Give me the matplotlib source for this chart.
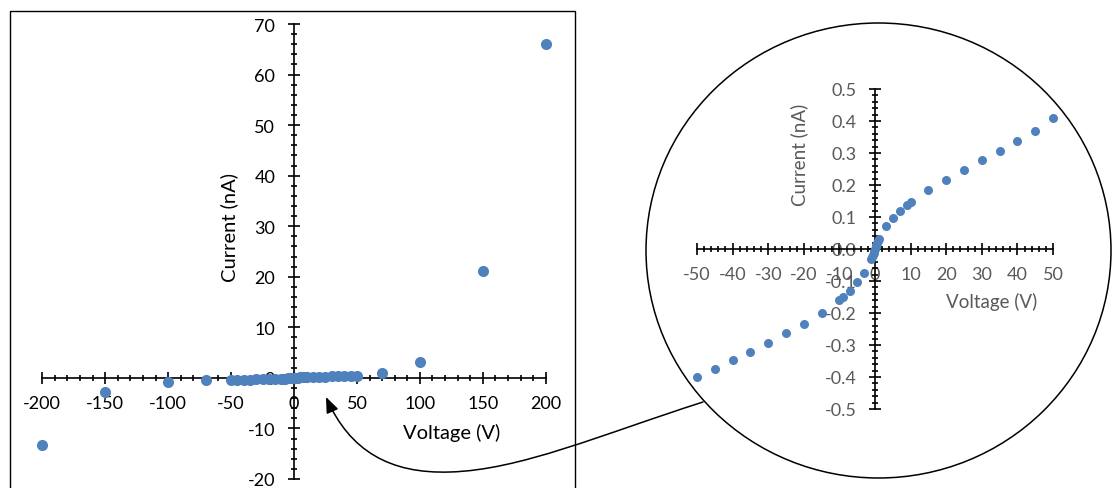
import numpy as np
import matplotlib
matplotlib.use("Agg")
import matplotlib.pyplot as plt
from matplotlib.ticker import MultipleLocator, FormatStrFormatter
from matplotlib.patches import Rectangle, Ellipse, FancyArrowPatch
from matplotlib.path import Path

#--------------------------------
# Configurations of the graphs
#--------------------------------
plt.rcParams['font.family'] = ['Lato', 'DejaVu Sans']
plt.rcParams['axes.unicode_minus'] = False

W, H = 1112, 489
BLUE = '#4f81bd'
GREY = '#595959'

#--------------------------------
# Data
#--------------------------------
# sweep between -50 V and 50 V (shown in the zoom circle)
volt_inner = [-50, -45, -40, -35, -30, -25, -20, -15, -10, -9, -7, -5, -3,
              -1, -0.8, -0.6, -0.4, -0.2, 0, 0.2, 0.4, 0.6, 0.8, 1,
              3, 5, 7, 9, 10, 15, 20, 25, 30, 35, 40, 45, 50]
curr_inner = [-0.401, -0.375, -0.346, -0.322, -0.294, -0.264, -0.235, -0.200,
              -0.158, -0.149, -0.130, -0.104, -0.075,
              -0.030, -0.025, -0.019, -0.013, -0.006, 0.0, 0.006, 0.013,
              0.019, 0.025, 0.031,
              0.071, 0.098, 0.118, 0.136, 0.146, 0.184, 0.217, 0.248, 0.277,
              0.306, 0.338, 0.370, 0.409]
# high voltage points (only in the full chart)
volt_outer = [-200, -150, -100, -70, 70, 100, 150, 200]
curr_outer = [-13.2, -2.8, -0.8, -0.5, 0.9, 3.2, 21.2, 66.1]


def fx(px):
    return px / W


def fy(py):
    return 1 - py / H


def cross_axes(ax, color):
    ax.set_facecolor('none')
    ax.spines[['top', 'right']].set_visible(False)
    ax.spines['left'].set_position('zero')
    ax.spines['bottom'].set_position('zero')
    for s in ('left', 'bottom'):
        ax.spines[s].set_linewidth(1.2)
        ax.spines[s].set_color('black')
    ax.tick_params(which='both', direction='inout', width=1.2, colors='black',
                   labelcolor=color)
    ax.tick_params(which='major', length=9)
    ax.tick_params(which='minor', length=5)


fig = plt.figure(figsize=(W / 100, H / 100), dpi=100)

# frame of the full chart
fig.patches.append(Rectangle((fx(10), fy(500)), fx(575) - fx(10), fy(12) - fy(500),
                             transform=fig.transFigure, fill=False,
                             ec='black', lw=1.0, zorder=0.5))
# zoom circle
fig.patches.append(Ellipse((fx(878.5), fy(251.5)), 465 / W, 455 / H,
                           transform=fig.transFigure, fc='white',
                           ec='black', lw=1.1, zorder=0.5))

#--------------------------------
# Full chart
#--------------------------------
ax = fig.add_axes([fx(42.3), fy(480), fx(545.7) - fx(42.3), fy(25) - fy(480)])
ax.set_zorder(2)
ax.set_xlim(-200, 200)
ax.set_ylim(-20, 70)
cross_axes(ax, 'black')
ax.xaxis.set_major_locator(MultipleLocator(50))
ax.xaxis.set_minor_locator(MultipleLocator(10))
ax.yaxis.set_major_locator(MultipleLocator(10))
ax.yaxis.set_minor_locator(MultipleLocator(2))
ax.tick_params(axis='x', which='major', labelsize=13, pad=7.5)
ax.tick_params(axis='y', which='major', labelsize=13, pad=9)
ax.plot(volt_outer + volt_inner, curr_outer + curr_inner, 'o', color=BLUE,
        ms=8, mew=0, clip_on=False, zorder=5)
fig.text(fx(452), fy(433), 'Voltage (V)', ha='center', va='center', fontsize=14.5)
fig.text(fx(229), fy(228), 'Current (nA)', ha='center', va='center',
         rotation=90, fontsize=14.5)

#--------------------------------
# Zoomed chart
#--------------------------------
ax2 = fig.add_axes([fx(697), fy(410), fx(1053) - fx(697), fy(90) - fy(410)])
ax2.set_zorder(2)
ax2.set_xlim(-50, 50)
ax2.set_ylim(-0.5, 0.5)
cross_axes(ax2, GREY)
ax2.xaxis.set_major_locator(MultipleLocator(10))
ax2.xaxis.set_minor_locator(MultipleLocator(2))
ax2.yaxis.set_major_locator(MultipleLocator(0.1))
ax2.yaxis.set_minor_locator(MultipleLocator(0.02))
ax2.yaxis.set_major_formatter(FormatStrFormatter('%.1f'))
ax2.tick_params(axis='x', which='major', labelsize=13, pad=7.5)
ax2.tick_params(axis='y', which='major', labelsize=13, pad=9)
ax2.plot(volt_inner, curr_inner, 'o', color=BLUE, ms=6.5, mew=0,
         clip_on=False, zorder=5)
fig.text(fx(992), fy(302), 'Voltage (V)', ha='center', va='center',
         fontsize=13.5, color=GREY)
fig.text(fx(799), fy(155), 'Current (nA)', ha='center', va='center',
         rotation=90, fontsize=13.5, color=GREY)

#--------------------------------
# Curved arrow from the circle to the full chart
#--------------------------------
pts = [(703, 403), (600, 436), (520, 471), (450, 473),
       (390, 475), (350, 452), (326, 398)]
codes = [Path.MOVETO] + [Path.CURVE4] * 6
arrow = FancyArrowPatch(path=Path([(fx(a), fy(b)) for a, b in pts], codes),
                        arrowstyle='-|>,head_length=0.5,head_width=0.2',
                        mutation_scale=19, lw=1.1, color='black',
                        transform=fig.transFigure, zorder=6)
fig.patches.append(arrow)

plt.savefig('out.png', dpi=100)
